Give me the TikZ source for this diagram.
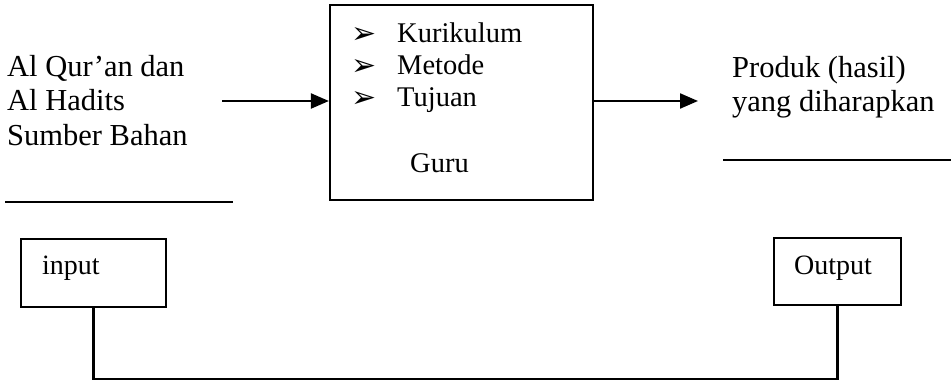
\documentclass[tikz,border=0pt]{standalone}
\usepackage{fontspec}
\setmainfont{Liberation Serif}
\newfontfamily\symfont{DejaVu Sans}
\usetikzlibrary{arrows.meta}

\tikzset{
  frame/.style={draw, line width=2.2pt, rectangle, inner sep=0pt},
  bigtext/.style={anchor=base west, inner sep=0pt, font=\fontsize{30.5}{34}\selectfont},
  boxtext/.style={anchor=base west, inner sep=0pt, font=\fontsize{28.5}{32}\selectfont},
  tip/.style={anchor=base west, inner sep=0pt, font=\symfont\fontsize{30}{32}\selectfont},
  flow/.style={line width=2.2pt, -{Triangle[length=18pt,width=15pt]}},
  link/.style={line width=2.2pt},
}

\begin{document}
\begin{tikzpicture}[x=1pt,y=-1pt]
  \useasboundingbox (0,0) rectangle (951,382);

  % central process box
  \node[frame, minimum width=263pt, minimum height=195pt] (proc) at (461.5,102.5) {};
  \node[tip] (b1) at (351,44) {➢};
  \node[tip] (b2) at (351,76) {➢};
  \node[tip] (b3) at (351,108) {➢};
  \node[boxtext] (kur) at (397,43) {Kurikulum};
  \node[boxtext] (met) at (397,75) {Metode};
  \node[boxtext] (tuj) at (397,107) {Tujuan};
  \node[boxtext] (guru) at (410,173) {Guru};

  % source text on the left
  \node[bigtext] (l1) at (7,77) {Al Qur’an dan};
  \node[bigtext] (l2) at (7,111) {Al Hadits};
  \node[bigtext] (l3) at (7,146) {Sumber Bahan};
  \draw[link] (5,202) -- (233,202);

  % result text on the right
  \node[bigtext] (r1) at (732,78) {Produk (hasil)};
  \node[bigtext] (r2) at (732,112) {yang diharapkan};
  \draw[link] (723,160) -- (951,160);

  % arrows into and out of the process box
  \coordinate (lin) at (222,101);
  \coordinate (rout) at (698,101);
  \draw[flow] (lin) -- (lin -| proc.west);
  \draw[flow] (proc.east |- rout) -- (rout);

  % input / output boxes and the feedback line
  \node[frame, minimum width=145pt, minimum height=68pt] (inbox) at (93.5,273) {};
  \node[boxtext, font=\fontsize{28}{30}\selectfont] (intext) at (42,275) {input};
  \node[frame, minimum width=127pt, minimum height=67pt] (outbox) at (837.5,271.5) {};
  \node[boxtext, font=\fontsize{28}{30}\selectfont] (outtext) at (794,275) {Output};
  \coordinate (bot) at (0,379);
  \draw[link] (inbox.south) -- (inbox.south |- bot) -| (outbox.south);
\end{tikzpicture}
\end{document}
